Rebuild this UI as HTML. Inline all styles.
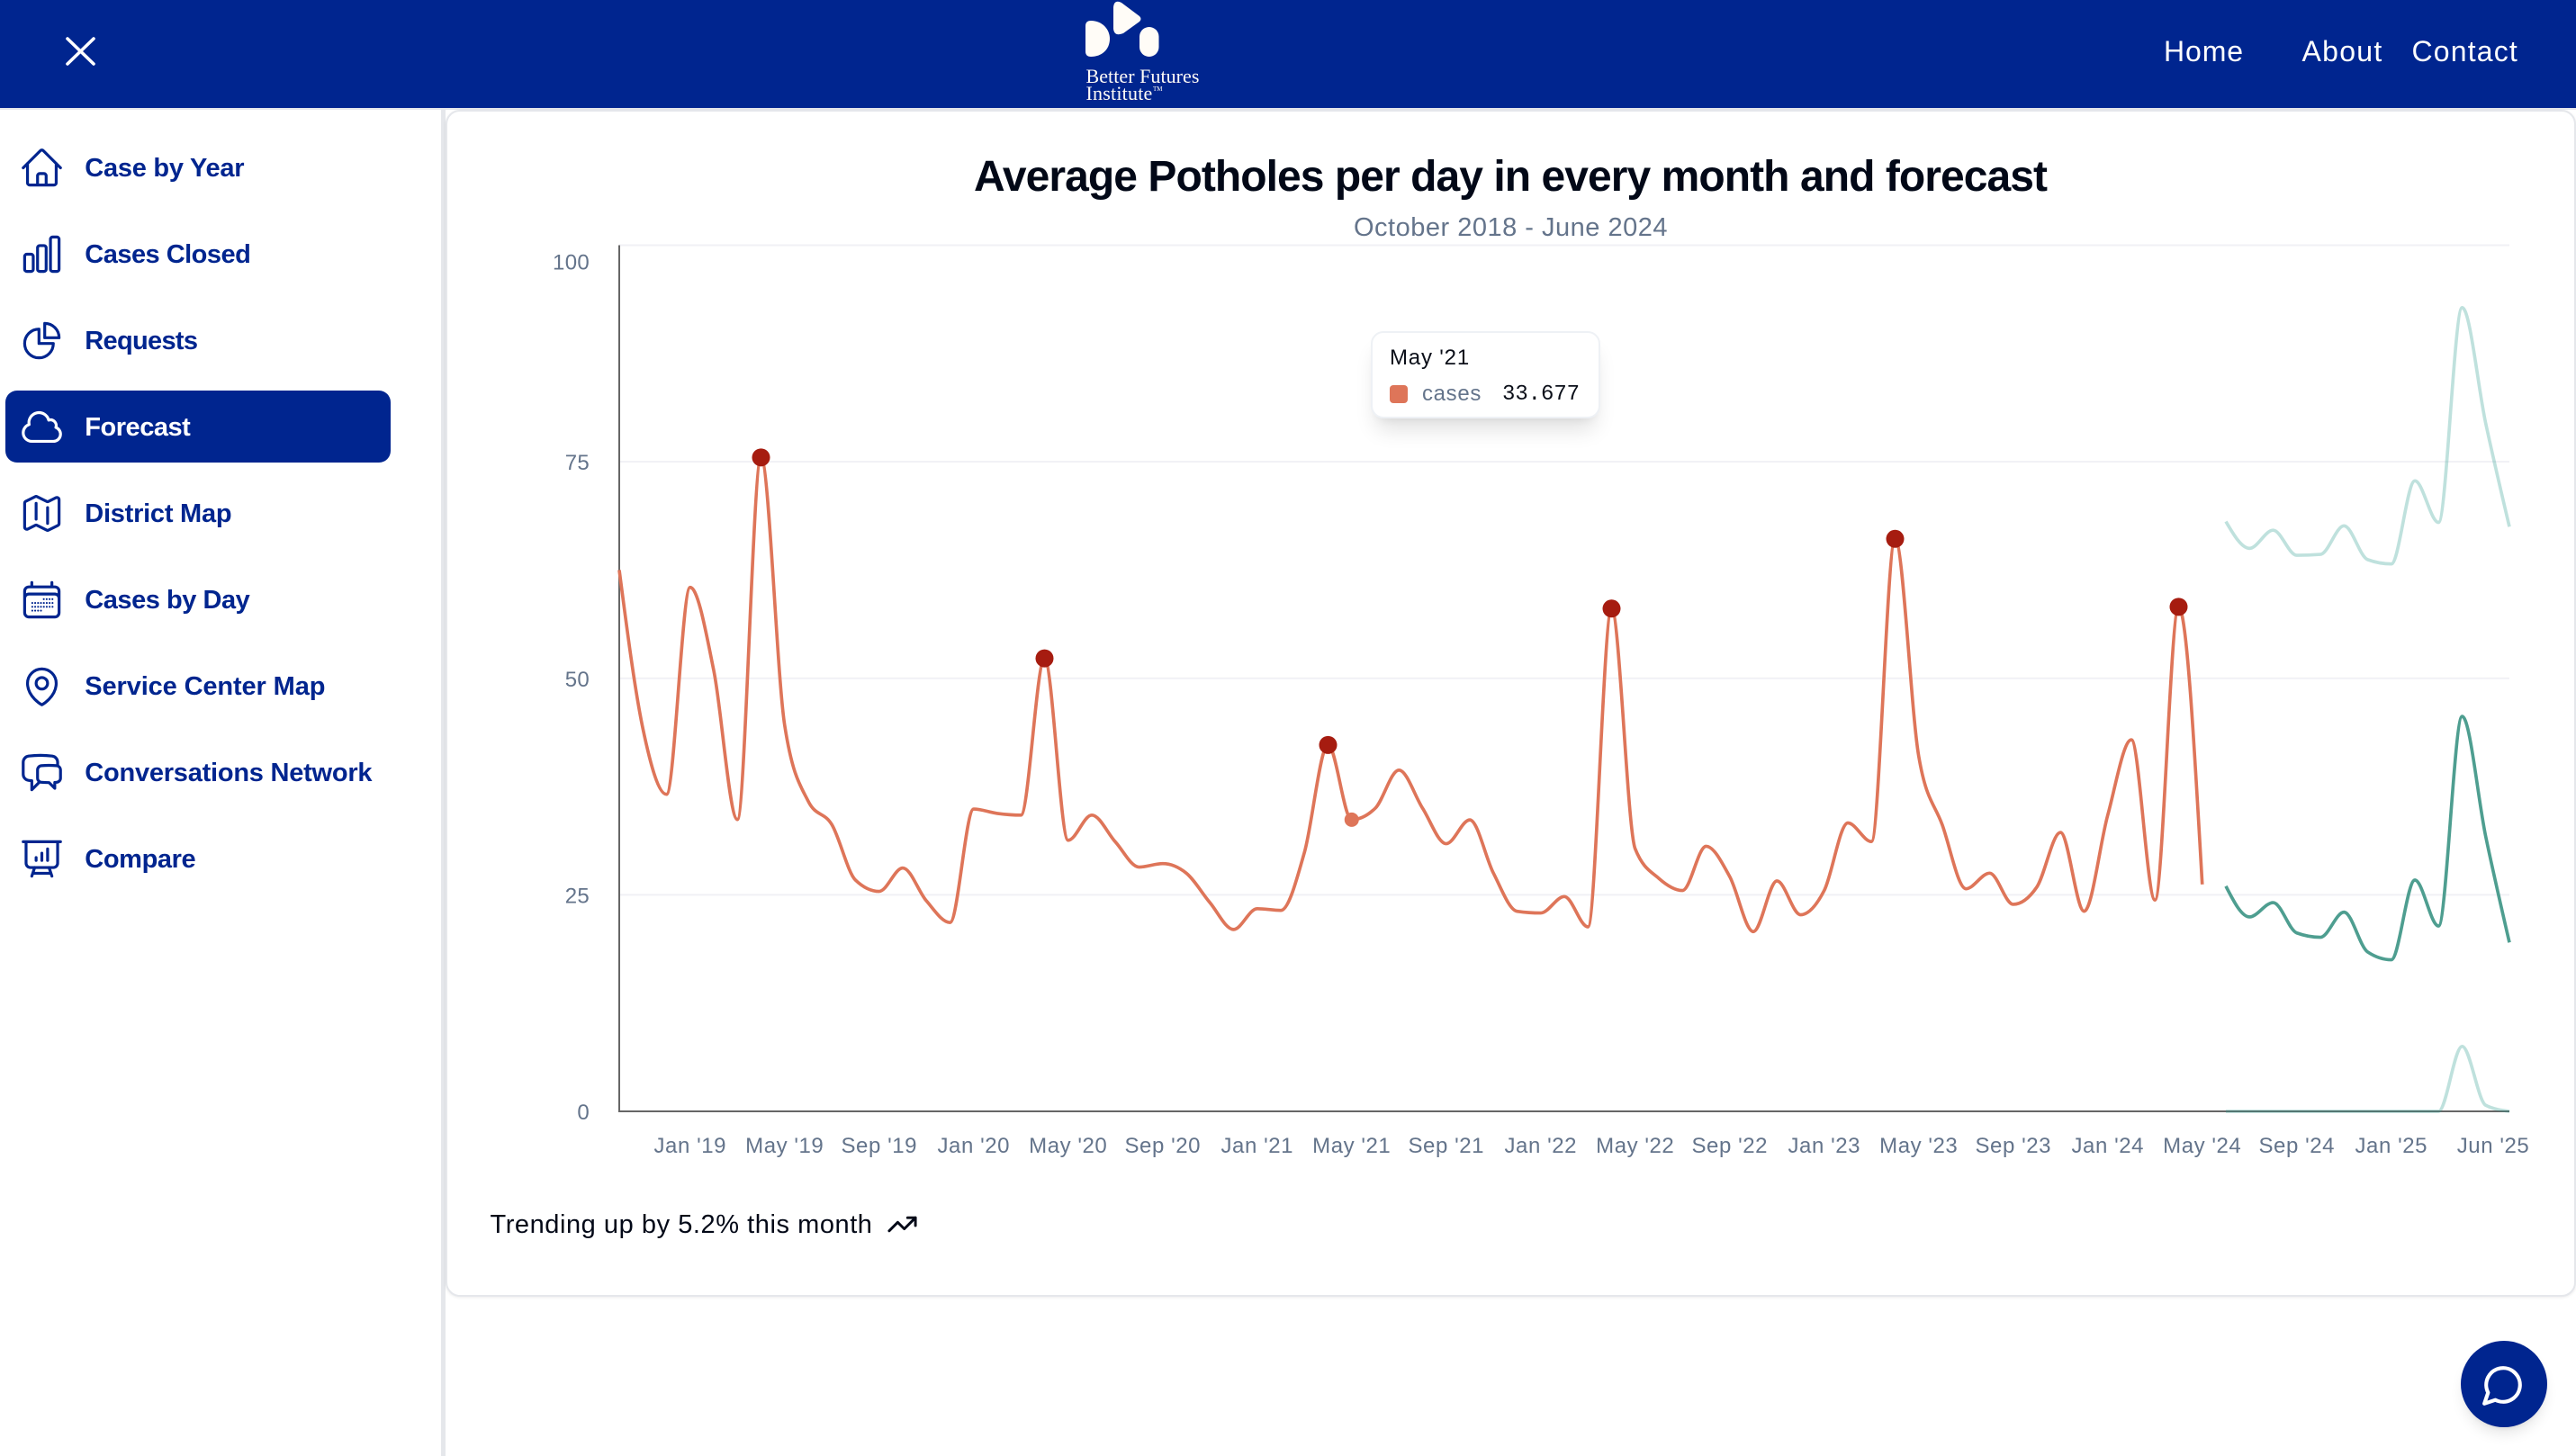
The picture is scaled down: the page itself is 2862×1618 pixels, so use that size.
<!DOCTYPE html>
<html lang="en">
<head>
<meta charset="utf-8">
<title>Average Potholes per day in every month and forecast</title>
<style>
html,body{margin:0;padding:0;background:#fff}
body{position:relative;width:2862px;height:1618px;overflow:hidden;font-family:"Liberation Sans",sans-serif}
.t{position:absolute;line-height:0;white-space:nowrap;display:inline-block}
#header{position:absolute;left:0;top:0;width:2862px;height:120px;background:#00258f}
#strip{position:absolute;left:0;top:120px;width:2862px;height:2px;background:#e5e7eb}
#sidebar{position:absolute;left:0;top:122px;width:490px;height:1496px;background:#fff;border-right:5px solid #e5e7eb}
.nav{position:absolute;left:6px;width:428px;height:80px;border-radius:13px;color:#00258f}
.nav.active{background:#00258f;color:#fff}
.nav svg{position:absolute;left:14.5px;top:14.5px;width:51px;height:51px;fill:none;stroke:currentColor;stroke-width:1.5;stroke-linecap:round;stroke-linejoin:round}
.nav .t{left:88.3px;top:40.7px;font-size:29px;font-weight:700}
#card{position:absolute;left:495px;top:122px;width:2363px;height:1315px;border:2px solid #e5e7eb;border-radius:16px;background:#fff;box-shadow:0 1px 3px rgba(0,0,0,.08)}
#chart{position:absolute;left:0;top:0}
#tooltip{position:absolute;left:1523px;top:368px;width:251px;height:93px;border:2px solid #eef1f5;border-radius:14px;background:#fff;box-shadow:0 18px 24px -6px rgba(0,0,0,.12),0 6px 10px -6px rgba(0,0,0,.08)}
#chat{position:absolute;left:2734px;top:1490px;width:96px;height:96px;border-radius:50%;background:#00258f;box-shadow:0 10px 15px -3px rgba(0,0,0,.1),0 4px 6px -4px rgba(0,0,0,.1)}
</style>
</head>
<body>

<div id="header">
  <svg style="position:absolute;left:70px;top:38px" width="40" height="38" viewBox="0 0 40 38"><path d="M5 5 L34 33 M34 5 L5 33" stroke="#fff" stroke-width="3.6" stroke-linecap="round" fill="none"/></svg>
  <svg style="position:absolute;left:1200px;top:0" width="100" height="70" viewBox="1200 0 100 70">
    <path fill="#fffcf7" d="M1206 29 Q1206 23 1212 23 C1225 23 1233 33 1233 43 C1233 55 1224 63 1212 63 Q1206 63 1206 57 Z"/>
    <path fill="#fffcf7" d="M1237 8 Q1238 -1 1246 3 L1266 18 Q1269 21 1266 24 L1248 37 Q1238 41 1237 32 Z"/>
    <rect fill="#fffcf7" x="1266" y="30" width="21.5" height="33" rx="10.7"/>
  </svg>
  <span class="t" style="left:1206.5px;top:84.6px;font-family:'Liberation Serif',serif;font-size:22px;color:#fffcf7" data-w="126">Better Futures</span>
  <span class="t" style="left:1206.5px;top:103.6px;font-family:'Liberation Serif',serif;font-size:22px;color:#fffcf7" data-w="74">Institute</span>
  <span class="t" style="left:1281px;top:99px;font-family:'Liberation Serif',serif;font-size:7px;color:#fffcf7">TM</span>
  <span class="t" style="left:2404px;top:57px;font-size:32px;color:#fff" data-w="89">Home</span>
  <span class="t" style="left:2557.5px;top:57px;font-size:32px;color:#fff" data-w="90">About</span>
  <span class="t" style="left:2679.5px;top:57px;font-size:32px;color:#fff" data-w="118.5">Contact</span>
</div>
<div id="strip"></div>

<div id="sidebar"></div>

<div class="nav" style="top:146px">
  <svg viewBox="0 0 24 24"><path d="m2.25 12 8.954-8.955c.44-.439 1.152-.439 1.591 0L21.75 12M4.5 9.75v10.125c0 .621.504 1.125 1.125 1.125H9.75v-4.875c0-.621.504-1.125 1.125-1.125h2.25c.621 0 1.125.504 1.125 1.125V21h4.125c.621 0 1.125-.504 1.125-1.125V9.75M8.25 21h8.25"/></svg>
  <span class="t" data-w="177">Case by Year</span>
</div>
<div class="nav" style="top:242px">
  <svg viewBox="0 0 24 24"><path d="M3 13.125C3 12.504 3.504 12 4.125 12h2.25c.621 0 1.125.504 1.125 1.125v6.75C7.5 20.496 6.996 21 6.375 21h-2.25A1.125 1.125 0 0 1 3 19.875v-6.75ZM9.75 8.625c0-.621.504-1.125 1.125-1.125h2.25c.621 0 1.125.504 1.125 1.125v11.25c0 .621-.504 1.125-1.125 1.125h-2.25a1.125 1.125 0 0 1-1.125-1.125V8.625ZM16.5 4.125c0-.621.504-1.125 1.125-1.125h2.25C20.496 3 21 3.504 21 4.125v15.75c0 .621-.504 1.125-1.125 1.125h-2.25a1.125 1.125 0 0 1-1.125-1.125V4.125Z"/></svg>
  <span class="t" data-w="184">Cases Closed</span>
</div>
<div class="nav" style="top:338px">
  <svg viewBox="0 0 24 24"><path d="M10.5 6a7.5 7.5 0 1 0 7.5 7.5h-7.5V6Z"/><path d="M13.5 10.5H21A7.5 7.5 0 0 0 13.5 3v7.5Z"/></svg>
  <span class="t" data-w="125">Requests</span>
</div>
<div class="nav active" style="top:434px">
  <svg viewBox="0 0 24 24"><path d="M2.25 15a4.5 4.5 0 0 0 4.5 4.5H18a3.75 3.75 0 0 0 1.332-7.257 3 3 0 0 0-3.758-3.848 5.25 5.25 0 0 0-10.233 2.33A4.502 4.502 0 0 0 2.25 15Z"/></svg>
  <span class="t" data-w="117">Forecast</span>
</div>
<div class="nav" style="top:530px">
  <svg viewBox="0 0 24 24"><path d="M9 6.75V15m6-6v8.25m.503 3.498 4.875-2.437c.381-.19.622-.58.622-1.006V4.82c0-.836-.88-1.38-1.628-1.006l-3.869 1.934c-.317.159-.69.159-1.006 0L9.503 3.252a1.125 1.125 0 0 0-1.006 0L3.622 5.689C3.24 5.88 3 6.27 3 6.695V19.18c0 .836.88 1.38 1.628 1.006l3.869-1.934c.317-.159.69-.159 1.006 0l4.994 2.497c.317.158.69.158 1.006 0Z"/></svg>
  <span class="t" data-w="163">District Map</span>
</div>
<div class="nav" style="top:626px">
  <svg viewBox="0 0 24 24"><path d="M6.75 3v2.25M17.25 3v2.25M3 18.75V7.5a2.25 2.25 0 0 1 2.25-2.25h13.5A2.25 2.25 0 0 1 21 7.5v11.25m-18 0A2.25 2.25 0 0 0 5.25 21h13.5A2.25 2.25 0 0 0 21 18.75m-18 0v-7.5A2.25 2.25 0 0 1 5.25 9h13.5A2.25 2.25 0 0 1 21 11.25v7.5"/><path stroke-dasharray="0.01 1.5" stroke-width="1" d="M13 11.7h5M7 13.7h11M7 15.7h11M7 17.7h6"/></svg>
  <span class="t" data-w="183">Cases by Day</span>
</div>
<div class="nav" style="top:722px">
  <svg viewBox="0 0 24 24"><path d="M15 10.5a3 3 0 1 1-6 0 3 3 0 0 1 6 0Z"/><path d="M19.5 10.5c0 7.142-7.5 11.25-7.5 11.25S4.5 17.642 4.5 10.5a7.5 7.5 0 1 1 15 0Z"/></svg>
  <span class="t" data-w="267">Service Center Map</span>
</div>
<div class="nav" style="top:818px">
  <svg viewBox="0 0 24 24"><path d="M20.25 8.511c.884.284 1.5 1.128 1.5 2.097v4.286c0 1.136-.847 2.1-1.98 2.193-.34.027-.68.052-1.02.072v3.091l-3-3c-1.354 0-2.694-.055-4.02-.163a2.115 2.115 0 0 1-.825-.242m9.345-8.334a2.126 2.126 0 0 0-.476-.095 48.64 48.64 0 0 0-8.048 0c-1.131.094-1.976 1.057-1.976 2.192v4.286c0 .837.46 1.58 1.155 1.951m9.345-8.334V6.637c0-1.621-1.152-3.026-2.76-3.235A48.455 48.455 0 0 0 11.25 3c-2.115 0-4.198.137-6.24.402-1.608.209-2.76 1.614-2.76 3.235v6.226c0 1.621 1.152 3.026 2.76 3.235.577.075 1.157.14 1.74.194V21l4.155-4.155"/></svg>
  <span class="t" data-w="319">Conversations Network</span>
</div>
<div class="nav" style="top:914px">
  <svg viewBox="0 0 24 24"><path d="M3.75 3v11.25A2.25 2.25 0 0 0 6 16.5h2.25M3.75 3h-1.5m1.5 0h16.5m0 0h1.5m-1.5 0v11.25A2.25 2.25 0 0 1 18 16.5h-2.25m-7.5 0h7.5m-7.5 0-1 3m8.5-3 1 3m0 0 .5 1.5m-.5-1.5h-9.5m0 0-.5 1.5M9 11.25v1.5M12 9v3.75m3-6v6"/></svg>
  <span class="t" data-w="123">Compare</span>
</div>

<div id="card"></div>

<span class="t" style="left:1082px;top:197.4px;font-size:48px;font-weight:700;color:#020817" data-w="1192">Average Potholes per day in every month and forecast</span>
<span class="t" style="left:1504px;top:252.7px;font-size:29px;color:#64748b" data-w="349">October 2018 - June 2024</span>

<svg id="chart" width="2862" height="1618" viewBox="0 0 2862 1618"></svg>

<div id="tooltip"></div>
<span class="t" style="left:1544px;top:397.7px;font-size:24px;color:#0b0f19" data-w="89">May '21</span>
<div style="position:absolute;left:1544px;top:428px;width:20px;height:20px;border-radius:4px;background:#de7559"></div>
<span class="t" style="left:1580px;top:437.7px;font-size:24px;color:#64748b" data-w="66">cases</span>
<span class="t" style="left:1669px;top:438.8px;font-size:24px;font-family:'Liberation Mono',monospace;color:#0b0f19" data-w="86">33.677</span>

<span class="t" style="left:544.5px;top:1361px;font-size:29px;color:#020817" data-w="425">Trending up by 5.2% this month</span>
<svg style="position:absolute;left:985px;top:1342.5px" width="35" height="35" viewBox="0 0 24 24" fill="none" stroke="#020817" stroke-width="2" stroke-linecap="round" stroke-linejoin="round"><polyline points="22 7 13.5 15.5 8.5 10.5 2 17"/><polyline points="16 7 22 7 22 13"/></svg>

<div id="chat">
  <svg style="position:absolute;left:22px;top:24px" width="50" height="50" viewBox="0 0 24 24" fill="none" stroke="#fff" stroke-width="2" stroke-linecap="round" stroke-linejoin="round"><path d="M7.9 20A9 9 0 1 0 4 16.1L2 22Z"/></svg>
</div>

<script>
const categories = ["Oct '18","Nov '18","Dec '18","Jan '19","Feb '19","Mar '19","Apr '19","May '19","Jun '19","Jul '19","Aug '19","Sep '19","Oct '19","Nov '19","Dec '19","Jan '20","Feb '20","Mar '20","Apr '20","May '20","Jun '20","Jul '20","Aug '20","Sep '20","Oct '20","Nov '20","Dec '20","Jan '21","Feb '21","Mar '21","Apr '21","May '21","Jun '21","Jul '21","Aug '21","Sep '21","Oct '21","Nov '21","Dec '21","Jan '22","Feb '22","Mar '22","Apr '22","May '22","Jun '22","Jul '22","Aug '22","Sep '22","Oct '22","Nov '22","Dec '22","Jan '23","Feb '23","Mar '23","Apr '23","May '23","Jun '23","Jul '23","Aug '23","Sep '23","Oct '23","Nov '23","Dec '23","Jan '24","Feb '24","Mar '24","Apr '24","May '24","Jun '24","Jul '24","Aug '24","Sep '24","Oct '24","Nov '24","Dec '24","Jan '25","Feb '25","Mar '25","Apr '25","May '25","Jun '25"];
const cases = [62.5,44.2,36.6,60.5,50.9,33.7,75.5,44.6,35.8,33.1,26.7,25.4,28.1,24.3,21.8,34.9,34.4,34.2,52.3,31.3,34.2,31.1,28.2,28.6,27.5,24.1,21,23.4,23.2,29.9,42.3,33.677,35,39.4,35,30.9,33.65,27.5,23.1,22.9,24.8,21.3,58.05,30.3,26.9,25.5,30.6,27.1,20.75,26.6,22.7,25.5,33.3,31.15,66.1,41,33.05,25.7,27.5,23.9,25.9,32.2,23.1,34.2,42.9,24.4,58.25,26.2];
const forecast = [26,22.45,24.1,20.6,20.1,23,18.4,17.5,26.7,21.4,45.6,31.7,19.5];
const forecastUpper = [68.1,65,67.1,64.2,64.3,67.6,63.7,63.2,72.8,68,92.8,79.4,67.5];
const forecastLower = [0,0,0,0,0,0,0,0,0,0,7.5,0.7,0];
const peakMonths = ["Apr '19","Apr '20","Apr '21","Apr '22","Apr '23","Apr '24"];
const activeMonth = "May '21";
const yTicks = [0,25,50,75,100];
const xTickLabels = ["Jan '19","May '19","Sep '19","Jan '20","May '20","Sep '20","Jan '21","May '21","Sep '21","Jan '22","May '22","Sep '22","Jan '23","May '23","Sep '23","Jan '24","May '24","Sep '24","Jan '25","Jun '25"];

const NS = "http://www.w3.org/2000/svg";
const svg = document.getElementById("chart");
const plot = {left:688, right:2788, top:272.5, bottom:1235};
const xScale = i => plot.left + i * (plot.right - plot.left) / (categories.length - 1);
const yScale = v => plot.bottom - v * (plot.bottom - plot.top) / yTicks[yTicks.length - 1];

function add(tag, attrs, parent) {
  const el = document.createElementNS(NS, tag);
  for (const k in attrs) el.setAttribute(k, attrs[k]);
  (parent || svg).appendChild(el);
  return el;
}
function sign(v) { return v < 0 ? -1 : 1; }
function monotonePath(pts) {
  const n = pts.length, t = new Array(n);
  for (let i = 1; i < n - 1; i++) {
    const h0 = pts[i][0] - pts[i-1][0], h1 = pts[i+1][0] - pts[i][0];
    const s0 = (pts[i][1] - pts[i-1][1]) / h0, s1 = (pts[i+1][1] - pts[i][1]) / h1;
    const p = (s0 * h1 + s1 * h0) / (h0 + h1);
    t[i] = (sign(s0) + sign(s1)) * Math.min(Math.abs(s0), Math.abs(s1), 0.5 * Math.abs(p)) || 0;
  }
  t[0] = (3 * (pts[1][1] - pts[0][1]) / (pts[1][0] - pts[0][0]) - t[1]) / 2;
  t[n-1] = (3 * (pts[n-1][1] - pts[n-2][1]) / (pts[n-1][0] - pts[n-2][0]) - t[n-2]) / 2;
  let d = "M" + pts[0][0] + "," + pts[0][1];
  for (let i = 1; i < n; i++) {
    const dx = (pts[i][0] - pts[i-1][0]) / 3;
    d += "C" + (pts[i-1][0] + dx) + "," + (pts[i-1][1] + dx * t[i-1]) + "," + (pts[i][0] - dx) + "," + (pts[i][1] - dx * t[i]) + "," + pts[i][0] + "," + pts[i][1];
  }
  return d;
}
function drawLine(values, offset, color, opacity) {
  const pts = values.map((v, i) => [xScale(i + offset), yScale(v)]);
  return add("path", {d: monotonePath(pts), fill: "none", stroke: color, "stroke-width": 3.65, "stroke-opacity": opacity});
}

yTicks.forEach(v => {
  if (v > 0) {
    const g = add("line", {x1: plot.left, x2: plot.right, y1: yScale(v), y2: yScale(v), stroke: "#f1f1f5", "stroke-width": 2});
    
    
  }
  const isTop = v === yTicks[yTicks.length - 1];
  const lab = add("text", {x: 655, y: yScale(v) + (isTop ? 27 : 9), "text-anchor": "end", "font-size": 24, "letter-spacing": 0.3, fill: "#64748b", "font-family": '"Liberation Sans",sans-serif'});
  lab.textContent = v;
  
  
});

const yAxis = add("line", {x1: plot.left, x2: plot.left, y1: plot.top, y2: plot.bottom, stroke: "#666", "stroke-width": 2});


const xAxis = add("line", {x1: plot.left - 1, x2: plot.right, y1: plot.bottom, y2: plot.bottom, stroke: "#666", "stroke-width": 2});



xTickLabels.forEach(label => {
  const cx = Math.min(xScale(categories.indexOf(label)), 2770);
  const t = add("text", {x: cx, y: 1281, "text-anchor": "middle", "font-size": 24, "letter-spacing": 0.55, fill: "#64748b", "font-family": '"Liberation Sans",sans-serif'});
  t.textContent = label;
  
  
});

const upperLine = drawLine(forecastUpper, cases.length, "#2a9d90", 0.3);


const lowerLine = drawLine(forecastLower, cases.length, "#2a9d90", 0.3);


const forecastLine = drawLine(forecast, cases.length, "#4e9e90", 1);


const casesLine = drawLine(cases, 0, "#de7559", 1);



peakMonths.forEach(m => {
  const i = categories.indexOf(m);
  const dot = add("circle", {cx: xScale(i), cy: yScale(cases[i]), r: 10, fill: "#a61c10"});
  
  
});
const ai = categories.indexOf(activeMonth);
const activeDot = add("circle", {cx: xScale(ai), cy: yScale(cases[ai]), r: 8, fill: "#de7559"});



document.querySelectorAll("[data-w]").forEach(el => {
  const target = parseFloat(el.getAttribute("data-w"));
  const w = el.getBoundingClientRect().width;
  el.style.letterSpacing = ((target - w) / el.textContent.length) + "px";
});
</script>
</body>
</html>
